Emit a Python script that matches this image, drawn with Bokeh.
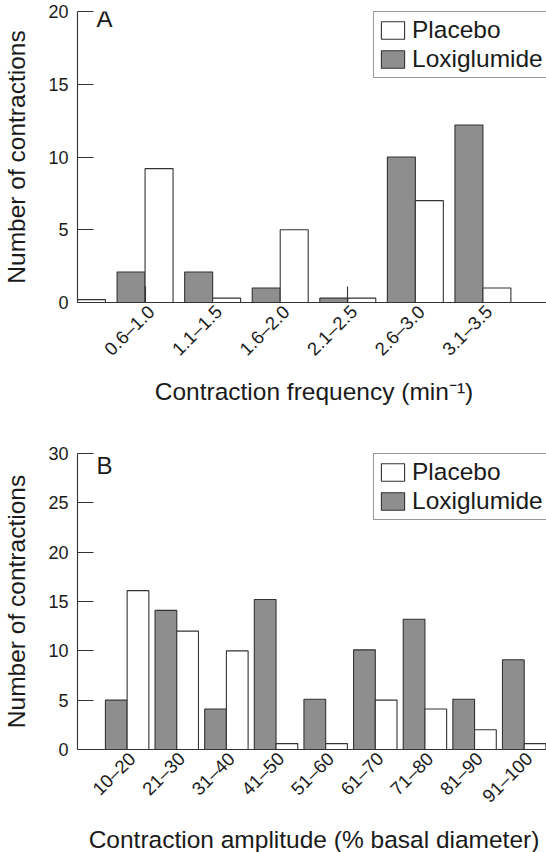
import math
from bokeh.plotting import figure
from bokeh.layouts import column
from bokeh.models import (Range1d, FixedTicker, CustomJSTickFormatter, Legend,
                          LegendItem, Label)
from bokeh.embed import file_html
from bokeh.resources import INLINE

# ---------------- data ----------------
# Panel A: contraction frequency bins (min^-1); the first entry is the bin
# just left of the axis (only its placebo bar is visible)
freq_labels = ["0.6–1.0", "1.1–1.5", "1.6–2.0", "2.1–2.5", "2.6–3.0", "3.1–3.5"]
placebo_a = [0.2, 9.2, 0.3, 5.0, 0.3, 7.0, 1.0]
loxi_a = [0.0, 2.1, 2.1, 1.0, 0.3, 10.0, 12.2]
freq_marks = [0, 3, 6]
y_ticks_a = [0, 5, 10, 15, 20]

# Panel B: contraction amplitude bins (% basal diameter)
amp_labels = ["10–20", "21–30", "31–40", "41–50", "51–60",
              "61–70", "71–80", "81–90", "91–100"]
placebo_b = [16.1, 12.0, 10.0, 0.6, 0.6, 5.0, 4.1, 2.0, 0.6]
loxi_b = [5.0, 14.1, 4.1, 15.2, 5.1, 10.1, 13.2, 5.1, 9.1]
y_ticks_b = [0, 5, 10, 15, 20, 25, 30]

FONT = "Liberation Sans"
TXT = "#1a1a1a"
LINE = "#333333"
GREY = "#8e8e8e"


def make_panel(letter, labels, xs_start, placebo, loxi, x_end, bar_w,
               y_max, y_ticks, label_shift, minor, xlabel, top_border,
               frame_h, bottom_border, label_standoff, letter_dy):
    p = figure(frame_width=473, frame_height=frame_h,
               x_range=Range1d(-1, x_end), y_range=Range1d(0, y_max),
               output_backend="svg", toolbar_location=None,
               min_border_left=72, min_border_right=1,
               min_border_top=top_border, min_border_bottom=bottom_border)
    p.outline_line_color = None
    p.xgrid.visible = False
    p.ygrid.visible = False
    p.background_fill_color = "white"
    p.border_fill_color = "white"

    xs = [xs_start + i for i in range(len(placebo))]
    lox_x = [x - bar_w / 2 for x in xs]
    pla_x = [x + bar_w / 2 for x in xs]
    r_lox = p.vbar(x=lox_x, top=loxi, width=bar_w, bottom=0,
                   fill_color=GREY, line_color=LINE, line_width=1.1)
    r_pla = p.vbar(x=pla_x, top=placebo, width=bar_w, bottom=0,
                   fill_color="white", line_color=LINE, line_width=1.1)

    # y axis
    ya = p.yaxis[0]
    ya.ticker = FixedTicker(ticks=y_ticks, minor_ticks=[])
    ya.major_tick_in = 16
    ya.major_tick_out = 0
    ya.minor_tick_line_color = None
    ya.axis_line_color = LINE
    ya.axis_line_width = 1.1
    ya.major_tick_line_color = LINE
    ya.major_tick_line_width = 1.1
    ya.major_label_text_font = FONT
    ya.major_label_text_font_size = "18px"
    ya.major_label_text_color = TXT
    ya.major_label_standoff = 9
    ya.axis_label = "Number of contractions"
    ya.axis_label_text_font = FONT
    ya.axis_label_text_font_size = "24.5px"
    ya.axis_label_text_font_style = "normal"
    ya.axis_label_text_color = TXT
    ya.axis_label_standoff = 15

    # x axis: labels at each bin centre, short inner marks at "minor"
    xa = p.xaxis[0]
    label_ticks = [i + label_shift for i in range(len(labels))]
    xa.ticker = FixedTicker(ticks=label_ticks, minor_ticks=minor)
    xa.formatter = CustomJSTickFormatter(
        args=dict(labels=labels),
        code="const i = Math.round(tick); return (i >= 0 && i < labels.length) ? labels[i] : '';")
    xa.major_tick_line_color = None
    xa.major_tick_in = 0
    xa.major_tick_out = 0
    xa.minor_tick_in = 16
    xa.minor_tick_out = 0
    xa.minor_tick_line_color = LINE
    xa.minor_tick_line_width = 1.1
    xa.axis_line_color = LINE
    xa.axis_line_width = 1.1
    xa.major_label_orientation = math.pi / 4
    xa.major_label_text_font = FONT
    xa.major_label_text_font_size = "18.5px"
    xa.major_label_text_color = TXT
    xa.major_label_standoff = 6
    xa.axis_label = xlabel
    xa.axis_label_text_font = FONT
    xa.axis_label_text_font_size = "24.5px"
    xa.axis_label_text_font_style = "normal"
    xa.axis_label_text_color = TXT
    xa.axis_label_standoff = label_standoff

    legend = Legend(items=[LegendItem(label="Placebo", renderers=[r_pla]),
                           LegendItem(label="Loxiglumide", renderers=[r_lox])],
                    location="top_right", margin=0, padding=4, spacing=1,
                    glyph_width=29, glyph_height=22, label_standoff=5,
                    label_width=133, label_height=22,
                    label_text_font=FONT, label_text_font_size="24.5px",
                    label_text_color=TXT, border_line_color=LINE,
                    border_line_width=1.1, background_fill_color="white",
                    background_fill_alpha=1.0)
    p.add_layout(legend)

    p.add_layout(Label(x=-1, y=y_max, x_offset=19, y_offset=letter_dy,
                       text=letter, text_baseline="top", text_align="left",
                       text_font=FONT, text_font_size="24px",
                       text_color=TXT))
    return p


pA = make_panel("A", freq_labels, -1, placebo_a, loxi_a, 6.0, 0.414,
                20, y_ticks_a, 0.09, freq_marks,
                "Contraction frequency (min⁻¹)", 11, 291, 109, 8, 7)
pB = make_panel("B", amp_labels, 0, placebo_b, loxi_b, 8.53, 0.4375,
                30, y_ticks_b, 0.1, [],
                "Contraction amplitude (% basal diameter)", 42, 296, 101, 9, 2)

layout = column(pA, pB)
open("out.html", "w").write(file_html(layout, INLINE))
